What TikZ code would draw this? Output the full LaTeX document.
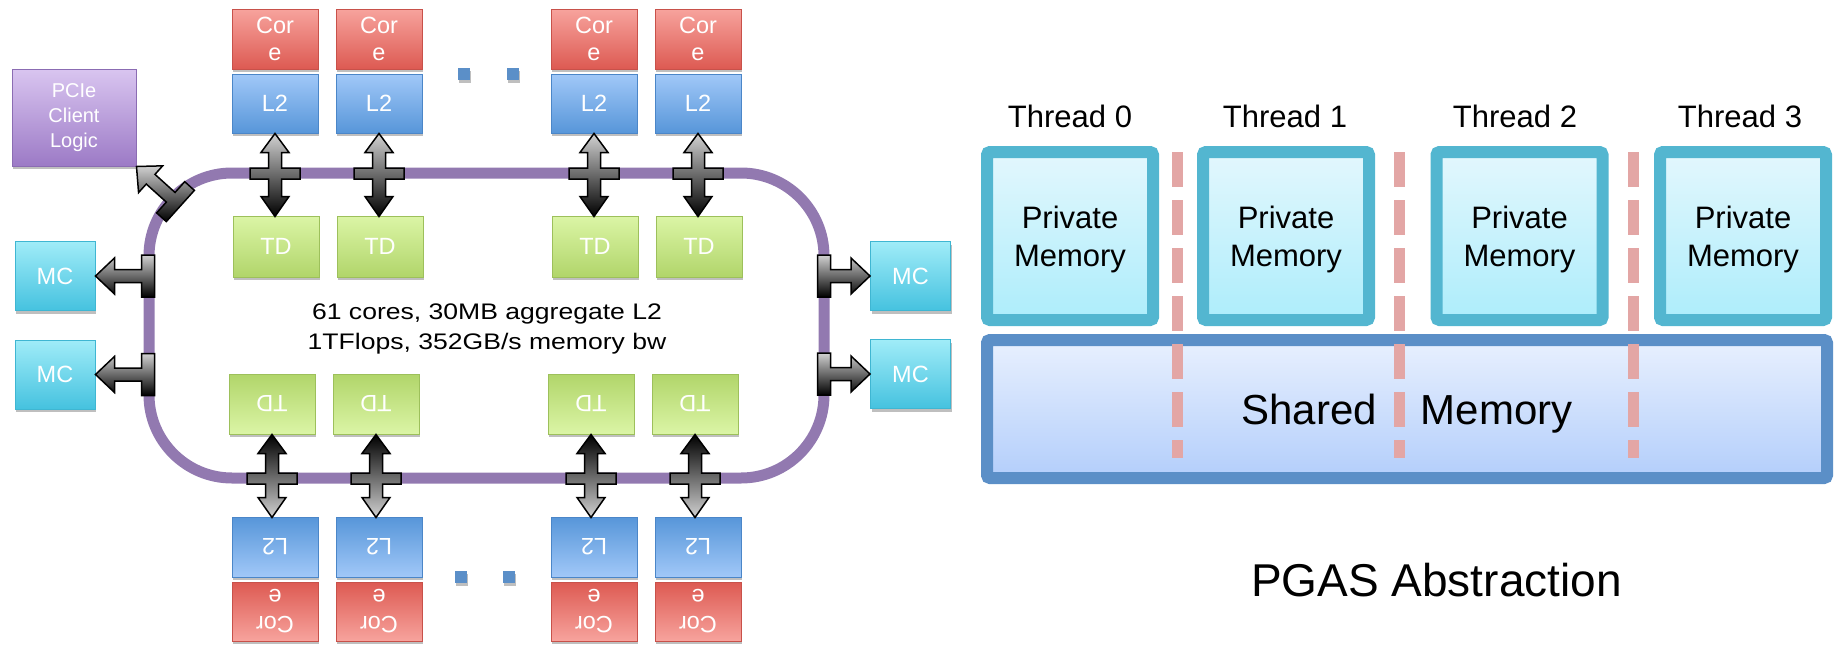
\documentclass[tikz,border=0pt]{standalone}
\usepackage{fontspec}
\setmainfont{Liberation Sans}
\newfontfamily\widesans[FakeStretch=1.18]{Liberation Sans}
\usepackage{graphicx}
\usetikzlibrary{shadows}
\definecolor{coretop}{HTML}{F7A39D}
\definecolor{corebot}{HTML}{DD5A52}
\definecolor{corebd}{HTML}{C8514A}
\definecolor{ltop}{HTML}{A1C8F8}
\definecolor{lbot}{HTML}{5796D9}
\definecolor{lbd}{HTML}{4B86C8}
\definecolor{ttop}{HTML}{DBF5A6}
\definecolor{tbot}{HTML}{B1D56A}
\definecolor{tbd}{HTML}{9DC05B}
\definecolor{mtop}{HTML}{A0ECF8}
\definecolor{mbot}{HTML}{45C2DF}
\definecolor{mbd}{HTML}{3FB6D2}
\definecolor{ptop}{HTML}{D9C5F0}
\definecolor{pbot}{HTML}{9C7AC6}
\definecolor{pbd}{HTML}{8B6CB3}
\definecolor{ringc}{HTML}{9279B0}
\definecolor{dotc}{HTML}{5B8FC8}
\definecolor{prtop}{HTML}{E3F7FD}
\definecolor{prbot}{HTML}{ADEDFB}
\definecolor{prbd}{HTML}{53B6D0}
\definecolor{shtop}{HTML}{E8F0FE}
\definecolor{shbot}{HTML}{B3CEFB}
\definecolor{shbd}{HTML}{5B8FC7}
\definecolor{dashc}{HTML}{E3A6A5}
\tikzset{
  shad/.style={drop shadow={shadow xshift=1pt, shadow yshift=-3pt, opacity=0.25, fill=black}},
  box/.style={draw, line width=1pt, inner sep=0pt, text=white, align=center,
    minimum width=86pt, font=\fontsize{23.5}{27}\selectfont, shad},
  core/.style={box, minimum height=60pt, draw=corebd, top color=coretop, bottom color=corebot},
  corer/.style={box, minimum height=59pt, draw=corebd, top color=corebot, bottom color=coretop},
  ltwo/.style={box, minimum height=59pt, draw=lbd, top color=ltop, bottom color=lbot},
  ltwor/.style={box, minimum height=60pt, draw=lbd, top color=lbot, bottom color=ltop},
  tdbox/.style={box, minimum height=61pt, draw=tbd, top color=ttop, bottom color=tbot},
  tdboxr/.style={box, minimum height=60pt, draw=tbd, top color=tbot, bottom color=ttop},
  mcbox/.style={box, minimum width=80pt, minimum height=69pt, draw=mbd, top color=mtop, bottom color=mbot},
  pciebox/.style={box, minimum width=124pt, minimum height=97pt, draw=pbd, top color=ptop, bottom color=pbot,
    font=\fontsize{20}{25}\selectfont},
  dotsq/.style={inner sep=0pt, minimum size=12pt, fill=dotc, shad},
  ringsty/.style={draw=ringc, line width=11pt, rounded corners=83pt, inner sep=0pt,
    minimum width=675pt, minimum height=305pt},
  blockarr/.style={draw=black, line width=1.5pt, line join=miter},
  privbox/.style={draw=prbd, line width=12pt, rounded corners=3pt, inner sep=0pt,
    minimum width=166pt, minimum height=168pt, top color=prtop, bottom color=prbot,
    align=center, font=\fontsize{31}{38}\selectfont, text depth=0pt, shad},
  sharedbox/.style={draw=shbd, line width=12pt, rounded corners=3pt, inner sep=0pt,
    minimum width=840pt, minimum height=138pt, top color=shtop, bottom color=shbot,
    font=\fontsize{42}{50}\selectfont, text depth=0pt, shad},
  thr/.style={font=\fontsize{31}{38}\selectfont, anchor=base, inner sep=0pt},
  sepline/.style={draw=dashc, line width=11pt, dash pattern=on 35pt off 13pt},
  vxtop/.pic={\shade[blockarr, top color=black!18, bottom color=black]
    (0,0) -- (14,19) -- (6.5,19) -- (6.5,34.5) -- (25,34.5) -- (25,45.5) -- (6.5,45.5)
    -- (6.5,63) -- (14,63) -- (0,83) -- (-14,63) -- (-6.5,63) -- (-6.5,45.5) -- (-25,45.5)
    -- (-25,34.5) -- (-6.5,34.5) -- (-6.5,19) -- (-14,19) -- cycle;},
  vxbot/.pic={\shade[blockarr, top color=black, bottom color=black!18]
    (0,0) -- (14,19) -- (6.5,19) -- (6.5,38.5) -- (25,38.5) -- (25,49.5) -- (6.5,49.5)
    -- (6.5,63) -- (14,63) -- (0,83) -- (-14,63) -- (-6.5,63) -- (-6.5,49.5) -- (-25,49.5)
    -- (-25,38.5) -- (-6.5,38.5) -- (-6.5,19) -- (-14,19) -- cycle;},
  hleft/.pic={\shade[blockarr, top color=black!18, bottom color=black]
    (0,0) -- (19,-18) -- (19,-6.5) -- (46,-6.5) -- (46,-21) -- (59,-21) -- (59,21)
    -- (46,21) -- (46,6.5) -- (19,6.5) -- (19,18) -- cycle;},
  hright/.pic={\shade[blockarr, top color=black!18, bottom color=black]
    (0,0) -- (-19,-18) -- (-19,-6.5) -- (-39.5,-6.5) -- (-39.5,-21) -- (-52.5,-21) -- (-52.5,21)
    -- (-39.5,21) -- (-39.5,6.5) -- (-19,6.5) -- (-19,18) -- cycle;}
}
\newcommand{\flip}[1]{\rotatebox[origin=c]{180}{#1}}
\begin{document}
\begin{tikzpicture}[x=1pt,y=-1pt]
\useasboundingbox (0,0) rectangle (1839,645);

% ring
\node[ringsty] (ring) at (486.5,325.5) {};

% top row
\foreach \n/\x in {1/275,2/379,3/594,4/698}{
  \node[core] (c\n) at (\x,39) {Cor\\e};
  \node[ltwo] (l\n) at (\x,103.5) {L2};
  \node[tdbox] (t\n) at (\x+1,246.5) {TD};
}
% bottom row
\foreach \n/\x in {1/275,2/379,3/594,4/698}{
  \node[tdboxr] (tb\n) at (\x-3,404) {\flip{TD}};
  \node[ltwor] (lb\n) at (\x,547) {\flip{L2}};
  \node[corer] (cb\n) at (\x,611.5) {\flip{\parbox{50pt}{\centering Cor\\e}}};
}
% dots
\node[dotsq] (d1) at (464,74) {};
\node[dotsq] (d2) at (513,74) {};
\node[dotsq] (d3) at (461,577) {};
\node[dotsq] (d4) at (508.5,577) {};

% memory controllers and PCIe
\node[mcbox] (mcl1) at (55,276) {MC};
\node[mcbox] (mcl2) at (55,374.5) {MC};
\node[mcbox] (mcr1) at (910.5,276) {MC};
\node[mcbox] (mcr2) at (910.5,374) {MC};
\node[pciebox] (pcie) at (74,117.5) {PCIe\\Client\\Logic};

% centre text
\node[align=center, inner sep=0pt, font=\widesans\fontsize{22.5}{30}\selectfont] (info) at (487,329)
  {61 cores, 30MB aggregate L2\\1TFlops, 352GB/s memory bw};

% block arrows
\foreach \n in {1,2,3,4}{
  \pic at (l\n.south) {vxtop};
  \pic at (tb\n.south) {vxbot};
}
\pic at (mcl1.east) {hleft};
\pic at (mcl2.east) {hleft};
\pic at (mcr1.west) {hright};
\pic at (mcr2.west) {hright};
\pic[rotate=-42] at (pcie.south east) {hleft};

% PGAS abstraction
\node[privbox] (p0) at (1070,236) {Private\\Memory};
\node[privbox] (p1) at (1286,236) {Private\\Memory};
\node[privbox] (p2) at (1519.5,236) {Private\\Memory};
\node[privbox] (p3) at (1743,236) {Private\\Memory};
\node[thr] (th0) at (1070,127) {Thread 0};
\node[thr] (th1) at (1285,127) {Thread 1};
\node[thr] (th2) at (1515,127) {Thread 2};
\node[thr] (th3) at (1740,127) {Thread 3};
\node[sharedbox] (sh) at (1407,409) {Shared\hspace{44pt}Memory};
\draw[sepline] (1177.5,152) -- (1177.5,458);
\draw[sepline] (1399,152) -- (1399,458);
\draw[sepline] (1633,152) -- (1633,458);
\node[font=\fontsize{46}{54}\selectfont, anchor=base, inner sep=0pt] (pgas) at (1436.5,596) {PGAS Abstraction};
\end{tikzpicture}
\end{document}
